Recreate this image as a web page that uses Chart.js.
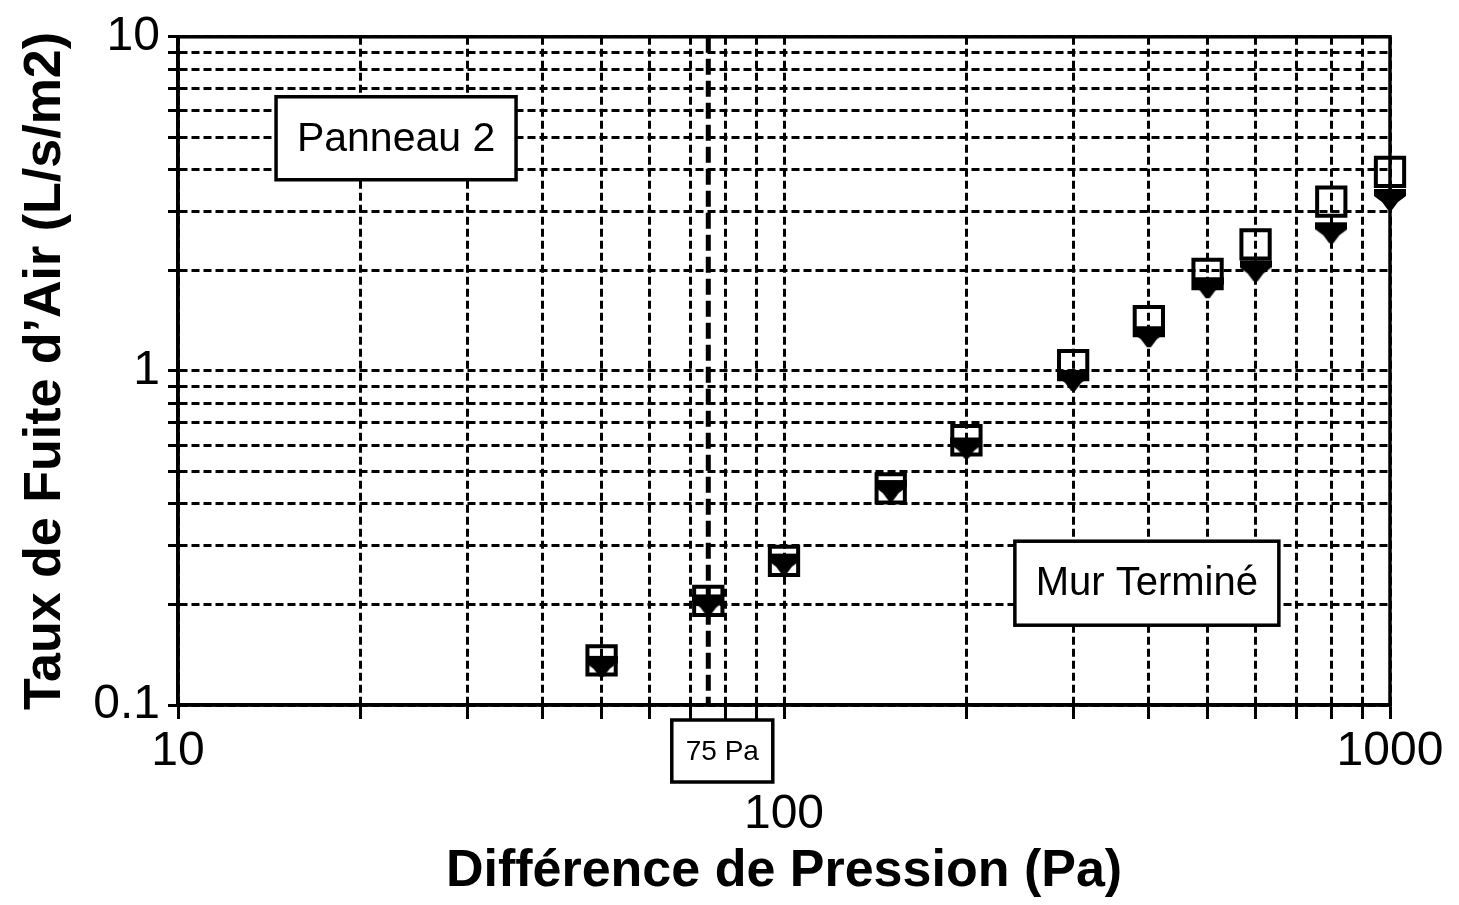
<!DOCTYPE html>
<html lang="fr">
<head>
<meta charset="UTF-8">
<title>Panneau 2 - Mur Terminé</title>
<script src="https://cdn.jsdelivr.net/npm/chart.js"></script>
<style>
  body { margin: 0; background: #ffffff; }
  .wrap { width: 1459px; height: 905px; position: relative; }
</style>
</head>
<body>
<div class="wrap"><canvas id="fuiteChart"></canvas></div>
<script>
// valeurs
const pressions = [50, 75, 100, 150, 200, 300, 400, 500, 600, 800, 1000];
const tauxOuverts = [0.136, 0.205, 0.27, 0.445, 0.62, 1.04, 1.41, 1.95, 2.39, 3.21, 3.94];
const tauxPleins = [0.131, 0.2, 0.265, 0.44, 0.59, 0.94, 1.27, 1.78, 2.0, 2.6, 3.27];

const xTicks = [10, 20, 30, 40, 50, 60, 70, 80, 90, 100, 200, 300, 400, 500, 600, 700, 800, 900, 1000];
const yTicks = [0.1, 0.2, 0.3, 0.4, 0.5, 0.6, 0.7, 0.8, 0.9, 1, 2, 3, 4, 5, 6, 7, 8, 9, 10];
const xLabels = { 10: '10', 100: ['', '100'], 1000: '1000' };
const yLabels = { 0.1: '0.1', 1: '1', 10: '10' };

const police = "'Liberation Sans', Arial, Helvetica, sans-serif";
Chart.defaults.font.family = police;
Chart.defaults.color = '#000';

function marqueurPlein() {
    const c = document.createElement('canvas');
    c.width = 32; c.height = 24;
    const g = c.getContext('2d');
    g.fillStyle = '#000';
    g.beginPath();
    g.moveTo(0, 2); g.lineTo(32, 2); g.lineTo(32, 9);
    g.lineTo(24, 15); g.lineTo(18, 23); g.lineTo(14, 23);
    g.lineTo(8, 15); g.lineTo(0, 9);
    g.closePath();
    g.fill();
    return c;
}

const cadres = [
    { texte: 'Panneau 2', x: 22.9, y: 4.97, w: 240, h: 83, taille: 41 },
    { texte: 'Mur Terminé', x: 397, y: 0.2315, w: 264, h: 84, taille: 40 }
];

function cadre(ctx, cx, cy, w, h, texte, taille) {
    ctx.save();
    ctx.fillStyle = '#fff';
    ctx.strokeStyle = '#000';
    ctx.lineWidth = 3.5;
    ctx.fillRect(cx - w / 2, cy - h / 2, w, h);
    ctx.strokeRect(cx - w / 2, cy - h / 2, w, h);
    ctx.fillStyle = '#000';
    ctx.font = taille + 'px ' + police;
    ctx.textAlign = 'center';
    ctx.textBaseline = 'middle';
    ctx.fillText(texte, cx, cy + 1);
    ctx.restore();
}

const habillage = {
    id: 'habillage',
    beforeDatasetsDraw(chart) {
        const { ctx, chartArea: a, scales: { x } } = chart;
        const px = x.getPixelForValue(75);
        ctx.save();
        ctx.strokeStyle = '#000';
        ctx.lineWidth = 5;
        ctx.setLineDash([16, 6]);
        ctx.beginPath();
        ctx.moveTo(px, a.top);
        ctx.lineTo(px, a.bottom);
        ctx.stroke();
        ctx.restore();
    },
    afterDatasetsDraw(chart) {
        const { ctx, chartArea: a, scales: { x, y } } = chart;
        cadres.forEach(c => {
            cadre(ctx, x.getPixelForValue(c.x), y.getPixelForValue(c.y), c.w, c.h, c.texte, c.taille);
        });
        // étiquette 75 Pa sous l'axe
        cadre(ctx, x.getPixelForValue(75) + 14, a.bottom + 46, 101, 62, '75 Pa', 28);
    },
    afterDraw(chart) {
        const { ctx, chartArea: a } = chart;
        ctx.save();
        ctx.strokeStyle = '#000';
        ctx.lineWidth = 3.5;
        ctx.strokeRect(a.left, a.top, a.right - a.left, a.bottom - a.top);
        ctx.restore();
    }
};

const ctx = document.getElementById('fuiteChart').getContext('2d');
new Chart(ctx, {
    type: 'scatter',
    data: {
        datasets: [{
            label: 'Ouvert',
            data: pressions.map((p, i) => ({ x: p, y: tauxOuverts[i] })),
            pointStyle: 'rect',
            pointRadius: 20,
            pointBorderWidth: 4,
            borderColor: '#000',
            backgroundColor: 'rgba(0,0,0,0)',
            clip: false
        }, {
            label: 'Plein',
            data: pressions.map((p, i) => ({ x: p, y: tauxPleins[i] })),
            pointStyle: marqueurPlein(),
            borderColor: '#000',
            backgroundColor: '#000',
            clip: false
        }]
    },
    options: {
        responsive: true,
        maintainAspectRatio: false,
        animation: false,
        devicePixelRatio: 1,
        layout: { padding: { left: 0, top: 30, right: 69, bottom: 0 } },
        plugins: {
            legend: { display: false },
            tooltip: { enabled: false }
        },
        scales: {
            x: {
                type: 'logarithmic',
                min: 10,
                max: 1000,
                afterBuildTicks: s => { s.ticks = xTicks.map(v => ({ value: v })); },
                afterFit: s => { s.height = 200; },
                grid: { color: '#000', lineWidth: 3, tickLength: 14, tickWidth: 3 },
                border: { display: true, color: '#000', width: 3.5, dash: [8, 4] },
                ticks: {
                    autoSkip: false,
                    maxRotation: 0,
                    padding: 2,
                    color: '#000',
                    font: { size: 48, lineHeight: 1.3 },
                    callback: v => xLabels[v] || ''
                },
                title: {
                    display: true,
                    text: 'Différence de Pression (Pa)',
                    color: '#000',
                    font: { size: 52, weight: 'bold', lineHeight: 1.2 },
                    padding: { top: 0, bottom: 2 }
                }
            },
            y: {
                type: 'logarithmic',
                min: 0.1,
                max: 10,
                afterBuildTicks: s => { s.ticks = yTicks.map(v => ({ value: v })); },
                afterFit: s => { s.width = 178; },
                grid: { color: '#000', lineWidth: 3, tickLength: 10, tickWidth: 3 },
                border: { display: true, color: '#000', width: 3.5, dash: [8, 4] },
                ticks: {
                    autoSkip: false,
                    padding: 8,
                    color: '#000',
                    font: { size: 48, lineHeight: 1.2 },
                    callback: v => yLabels[v] || ''
                },
                title: {
                    display: true,
                    text: 'Taux de Fuite d\u2019Air (L/s/m2)',
                    color: '#000',
                    font: { size: 52, weight: 'bold', lineHeight: 1.2 },
                    padding: { top: 14, bottom: 0 }
                }
            }
        }
    },
    plugins: [habillage]
});
</script>
</body>
</html>
